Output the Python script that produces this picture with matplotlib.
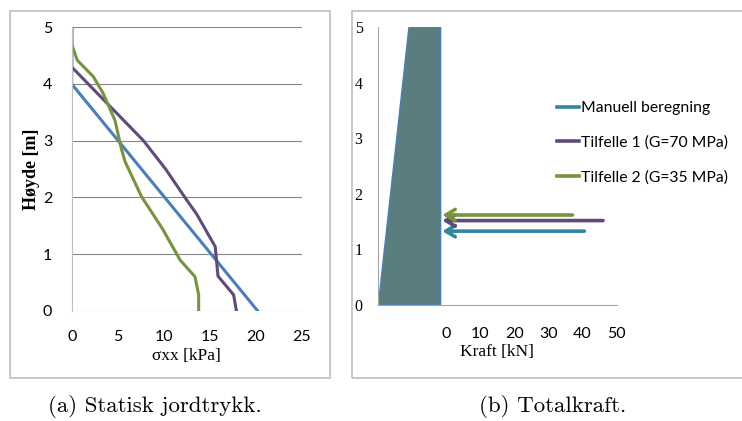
import matplotlib.pyplot as plt
from matplotlib.lines import Line2D
from matplotlib.patches import Rectangle

# (a) Statisk jordtrykk: sigma_xx [kPa] against height [m]
MANUELL_X = [0, 0, 20.2]
MANUELL_Y = [5, 4.0, 0]
TILF1_X = [0, 0, 1.8, 7.8, 10.2, 12.3, 13.6, 15.6, 15.9, 17.6, 17.9]
TILF1_Y = [5, 4.3, 4.0, 3.0, 2.5, 2.0, 1.7, 1.13, 0.61, 0.28, 0]
TILF2_X = [0, 0, 0.6, 2.35, 3.4, 4.7, 5.35, 5.8, 7.6, 9.85, 11.8, 13.4, 13.8, 13.8]
TILF2_Y = [5, 4.7, 4.42, 4.13, 3.84, 3.36, 2.89, 2.63, 2.01, 1.45, 0.89, 0.6, 0.28, 0]

# (b) Totalkraft: wall outline and resultant forces
WALL_X = [-20, -11, -1.7, -1.7]
WALL_Y = [0, 5, 5, 0]
FORCE_LABELS = ["Manuell beregning", "Tilfelle 1 (G=70 MPa)", "Tilfelle 2 (G=35 MPa)"]
FORCE_KN = [40.5, 46, 37]
FORCE_HEIGHT = [1.33, 1.52, 1.62]
FORCE_TIP = -1.2

BLUE = "#4a7ebb"
PURPLE = "#604a7b"
GREEN = "#77933c"
TEAL = "#31859c"
FORCE_COLORS = [TEAL, PURPLE, GREEN]

SANS = ["Lato", "DejaVu Sans"]
SERIF = ["Liberation Serif", "DejaVu Serif"]

fig = plt.figure(figsize=(7.42, 4.21), dpi=100)
W, H = 742, 421


def fx(px):
    return px / W


def fy(py):
    return (H - py) / H


# chart frames
for x0, x1 in [(10, 330), (352, 760)]:
    fig.patches.append(Rectangle((fx(x0), fy(377.5)), fx(x1 - x0), fy(11) - fy(377.5),
                                 transform=fig.transFigure, fill=False,
                                 edgecolor="#bfbfbf", lw=1.2))

# ---- left panel ----
ax = fig.add_axes([fx(71.7), fy(310.7), fx(230), fy(27.3) - fy(310.7)])
ax.plot(MANUELL_X, MANUELL_Y, color=BLUE, lw=2.2, solid_joinstyle="round")
ax.plot(TILF1_X, TILF1_Y, color=PURPLE, lw=2.2, solid_joinstyle="round")
ax.plot(TILF2_X, TILF2_Y, color=GREEN, lw=2.2, solid_joinstyle="round")
ax.set_xlim(0, 25)
ax.set_ylim(0, 5)
ax.set_xticks(range(0, 26, 5))
ax.set_yticks(range(0, 6))
ax.grid(axis="y", color="#868686", lw=0.8)
ax.set_axisbelow(True)
for s in ["top", "right", "bottom"]:
    ax.spines[s].set_visible(False)
ax.spines["left"].set_color("#bfbfbf")
ax.tick_params(length=0, labelsize=11.5, pad=14)
for lab in ax.get_xticklabels() + ax.get_yticklabels():
    lab.set_family(SANS)
ax.set_xlabel("σxx [kPa]", fontsize=12.5, family=SERIF, labelpad=3)
ax.set_ylabel("Høyde [m]", fontsize=13, family=SERIF, fontweight="bold", labelpad=2)

# ---- right panel ----
bx = fig.add_axes([fx(378.3), fy(305), fx(616.7 - 378.3), fy(27.3) - fy(305)])
bx.fill(WALL_X, WALL_Y, facecolor="#5a7d7e", edgecolor="#4a7ebb", lw=1)
for kn, h, c in zip(FORCE_KN, FORCE_HEIGHT, FORCE_COLORS):
    bx.annotate("", xy=(FORCE_TIP, h), xytext=(kn, h),
                arrowprops=dict(arrowstyle="->,head_length=0.75,head_width=0.45",
                                color=c, lw=2.6, shrinkA=0, shrinkB=0,
                                mutation_scale=9))
bx.set_xlim(-20, 50)
bx.set_ylim(0, 5)
bx.set_xticks(range(0, 51, 10))
bx.set_yticks(range(0, 6))
for s in ["top", "right"]:
    bx.spines[s].set_visible(False)
bx.spines["left"].set_color("#a6a6a6")
bx.spines["bottom"].set_color("#a6a6a6")
bx.tick_params(axis="x", length=0, labelsize=11.5, pad=16)
bx.tick_params(axis="y", length=0, labelsize=11.5, pad=17)
for lab in bx.get_xticklabels():
    lab.set_family(SANS)
for lab in bx.get_yticklabels():
    lab.set_family(SERIF)
    lab.set_horizontalalignment("left")
fig.text(fx(497), fy(352), "Kraft [kN]", fontsize=12.5, family=SERIF, ha="center", va="center")

handles = [Line2D([], [], color=c, lw=2.6) for c in FORCE_COLORS]
fig.legend(handles, FORCE_LABELS, loc="upper left", bbox_to_anchor=(fx(557), fy(101)),
           frameon=False, prop={"family": SANS, "size": 11.3}, handlelength=1.4,
           handletextpad=0.15, labelspacing=1.3, borderpad=0, borderaxespad=0)

# captions
fig.text(fx(155), fy(407), "(a) Statisk jordtrykk.", fontsize=16.5, family="cmr10",
         ha="center", va="center")
fig.text(fx(553), fy(407), "(b) Totalkraft.", fontsize=16.5, family="cmr10",
         ha="center", va="center")

fig.savefig("out.png", dpi=100)
